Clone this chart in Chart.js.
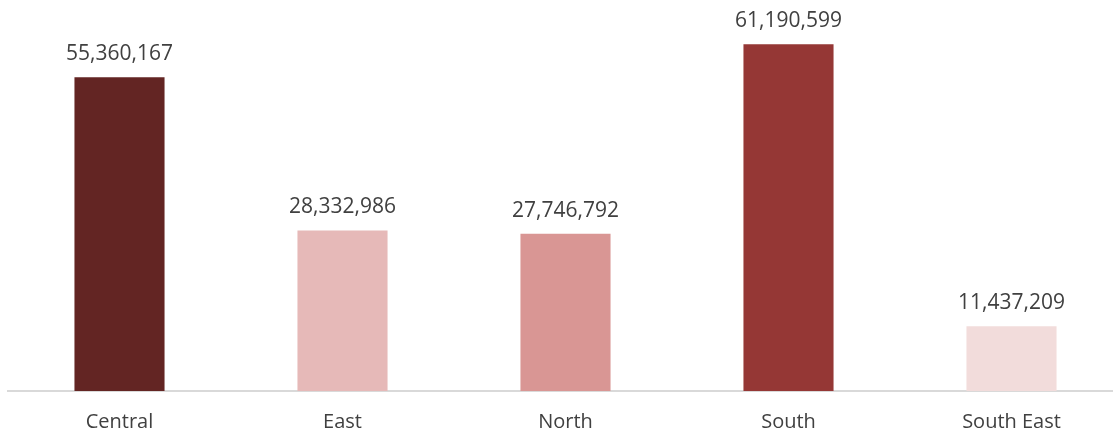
<!DOCTYPE html>
<html>
<head>
<meta charset="utf-8">
<script src="https://cdn.jsdelivr.net/npm/chart.js@4/dist/chart.umd.min.js"></script>
<style>
  html, body { margin: 0; padding: 0; background: #fff; overflow: hidden; }
  #wrap { width: 1123px; height: 453px; }
</style>
</head>
<body>
<div id="wrap"><canvas id="myChart"></canvas></div>
<script>
// Data

var regions = ['Central', 'East', 'North', 'South', 'South East']
var sales = [55360167, 28332986, 27746792, 61190599, 11437209]
var barColors = ['#632523', '#E6B9B8', '#D99694', '#953735', '#F2DCDB']

var FONT = '"Open Sans", sans-serif'

// Labels above bars

var valueLabels = {
    id: 'valueLabels',
    afterDatasetsDraw(chart) {
        var ctx = chart.ctx
        var meta = chart.getDatasetMeta(0)
        ctx.save()
        ctx.font = '21px ' + FONT
        ctx.fillStyle = '#404040'
        ctx.textAlign = 'center'
        ctx.textBaseline = 'alphabetic'
        meta.data.forEach((bar, i) => {
            ctx.fillText(sales[i].toLocaleString('en-US'), bar.x, bar.y - 17)
        })
        ctx.restore()
    }
}

// Drawing

var ctx = document.getElementById('myChart').getContext('2d')

var myChart = new Chart(ctx, {
    type: 'bar',
    data: {
        labels: regions,
        datasets: [{
            data: sales,
            backgroundColor: barColors,
            barPercentage: 1,
            categoryPercentage: 0.404,
        }]
    },
    options: {
        responsive: true,
        maintainAspectRatio: false,
        animation: false,
        layout: { padding: { left: 8, right: 0, top: 0, bottom: 0 } },
        plugins: {
            legend: { display: false },
            tooltip: { enabled: false },
        },
        scales: {
            x: {
                grid: { display: false, drawTicks: false },
                border: { color: '#D9D9D9', width: 2 },
                ticks: { color: '#404040', font: { family: FONT, size: 20 }, padding: 19 },
            },
            y: {
                display: false,
                min: 0,
                max: 69000000,
            }
        }
    },
    plugins: [valueLabels]
})
</script>
</body>
</html>
